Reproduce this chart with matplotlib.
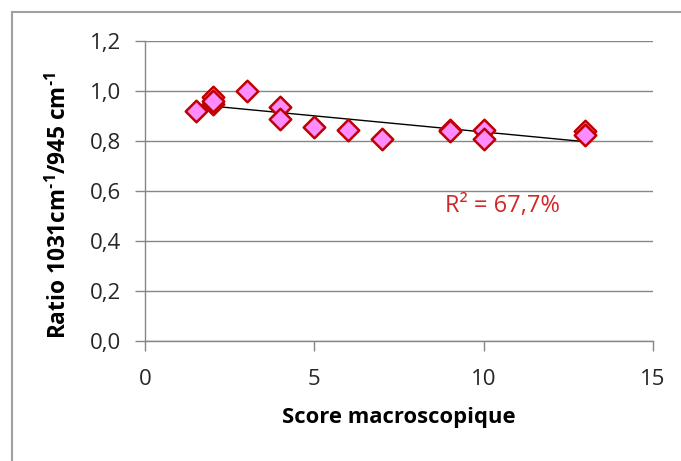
import numpy as np
import matplotlib
matplotlib.use("Agg")
import matplotlib.pyplot as plt
from matplotlib.lines import Line2D

score = [1.5, 2, 2, 2, 3, 4, 4, 5, 6, 7, 9, 9, 10, 10, 13, 13]
ratio = [0.92, 0.975, 0.95, 0.96, 1.0, 0.935, 0.89, 0.855, 0.845, 0.81,
         0.845, 0.84, 0.845, 0.81, 0.84, 0.825]
xticks = [0, 5, 10, 15]
yticks = [0.0, 0.2, 0.4, 0.6, 0.8, 1.0, 1.2]
ytick_labels = ["0,0", "0,2", "0,4", "0,6", "0,8", "1,0", "1,2"]
r2_text = "R² = 67,7%"

plt.rcParams['font.family'] = ['Open Sans', 'DejaVu Sans']
plt.rcParams['mathtext.fontset'] = 'custom'
plt.rcParams['mathtext.rm'] = 'Open Sans'
plt.rcParams['mathtext.bf'] = 'Open Sans:bold'

fig = plt.figure(figsize=(6.81, 4.61), dpi=100)
ax = fig.add_axes([145/681, 1-341/461, (653-145)/681, (341-41)/461])

gray = '#868686'
ax.set_xlim(0, 15)
ax.set_ylim(0, 1.2)
ax.set_yticks(yticks)
ax.set_yticklabels(ytick_labels)
ax.set_xticks(xticks)
ax.grid(axis='y', color=gray, linewidth=1)
ax.set_axisbelow(True)
for s in ['top', 'right']:
    ax.spines[s].set_visible(False)
for s in ['left', 'bottom']:
    ax.spines[s].set_color(gray)
    ax.spines[s].set_linewidth(1)
ax.tick_params(axis='both', colors=gray, labelcolor='#262626', labelsize=16,
               length=7, width=1, direction='out')
ax.tick_params(axis='x', pad=13)
ax.tick_params(axis='y', pad=10)

# trendline
coef = np.polyfit(score, ratio, 1)
xs = np.array([min(score), max(score)])
ax.plot(xs, np.polyval(coef, xs), color='black', linewidth=1, zorder=3)

ax.scatter(score, ratio, marker='D', s=120, facecolor='#FF8CFF', edgecolor='#C00000',
           linewidths=1.8, zorder=4)

ax.text(8.85, 0.54, r2_text, color='#D02828', fontsize=17, va='center', ha='left')

ax.set_xlabel("Score macroscopique", fontsize=15.8, fontweight='bold', va='center')
ax.set_ylabel("Ratio 1031cm$^{\\mathbf{\u20101}}$/945 cm$^{\\mathbf{\u20101}}$", fontsize=16.3,
              fontweight='bold', va='center')
ax.xaxis.set_label_coords(0.5, (341-418)/300)
ax.yaxis.set_label_coords((59-145)/508, (341-205)/300)

# chart border
fig.add_artist(Line2D([12/681, 12/681], [0, 1-12/461], color='#A0A0A0', linewidth=1.5,
                      transform=fig.transFigure))
fig.add_artist(Line2D([12/681, 1], [1-12/461, 1-12/461], color='#A0A0A0', linewidth=1.5,
                      transform=fig.transFigure))

fig.savefig("out.png", dpi=100)
